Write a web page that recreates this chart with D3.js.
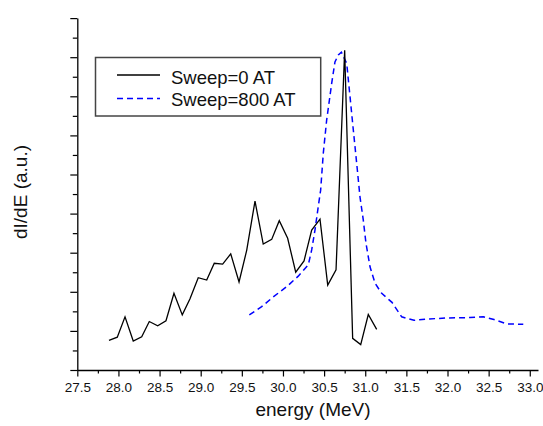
<!DOCTYPE html>
<html>
<head>
<meta charset="utf-8">
<script src="https://cdnjs.cloudflare.com/ajax/libs/d3/7.8.5/d3.min.js"></script>
<style>
  html, body { margin: 0; padding: 0; background: #fff; }
  svg { display: block; }
  text { font-family: Arial, "Liberation Sans", sans-serif; }
</style>
</head>
<body>
<svg id="chart" width="543" height="426"></svg>
<script>
// ---- Data ----
const seriesNames = ["Sweep=0 AT", "Sweep=800 AT"];

const sweep0Energy = [27.885, 27.986, 28.08, 28.18, 28.283, 28.375, 28.477, 28.578, 28.675, 28.776,
  28.87, 28.97, 29.073, 29.165, 29.267, 29.365, 29.466, 29.559, 29.66, 29.76,
  29.863, 29.955, 30.057, 30.155, 30.256, 30.349, 30.45, 30.544, 30.645, 30.75,
  30.847, 30.945, 31.037, 31.139];
const sweep0Value = [0.76, 0.84, 1.36, 0.74, 0.85, 1.24, 1.13, 1.26, 1.96, 1.41,
  1.82, 2.36, 2.30, 2.73, 2.71, 2.97, 2.25, 3.06, 4.32, 3.22,
  3.34, 3.82, 3.37, 2.50, 2.79, 3.58, 3.86, 2.17, 2.56, 8.18,
  0.81, 0.65, 1.42, 1.04];

const sweep800Energy = [29.591, 29.741, 29.882, 30.045, 30.186, 30.308, 30.349, 30.389, 30.429, 30.458,
  30.49, 30.531, 30.592, 30.632, 30.673, 30.71, 30.775, 30.815, 30.855, 30.896,
  30.936, 30.976, 31.009, 31.058, 31.119, 31.2, 31.325, 31.443, 31.593, 31.726,
  31.99, 32.273, 32.435, 32.565, 32.72, 32.921];
const sweep800Value = [1.41, 1.62, 1.87, 2.13, 2.40, 2.69, 3.07, 3.58, 4.18, 4.60,
  5.54, 6.39, 7.33, 7.88, 8.06, 8.13, 7.84, 6.99, 6.14, 5.29,
  4.43, 3.84, 3.24, 2.64, 2.22, 1.96, 1.73, 1.36, 1.27, 1.30,
  1.33, 1.34, 1.36, 1.29, 1.18, 1.17];

const xMajorTicks = [27.5, 28.0, 28.5, 29.0, 29.5, 30.0, 30.5, 31.0, 31.5, 32.0, 32.5, 33.0];
const xTickLabels = ["27.5", "28.0", "28.5", "29.0", "29.5", "30.0", "30.5", "31.0", "31.5", "32.0", "32.5", "33.0"];
const yMajorTicks = [0, 1, 2, 3, 4, 5, 6, 7, 8, 9];

const xLabel = "energy (MeV)";
const yLabel = "dI/dE (a.u.)";

// ---- Layout ----
const svg = d3.select("#chart");
const mLeft = 77.3, mRight = 538, mTop = 18.1, mBottom = 370;

const x = d3.scaleLinear().domain([27.5, 33.1]).range([mLeft, mRight]);
const y = d3.scaleLinear().domain([0, 9]).range([mBottom, mTop]);

const xMinor = d3.range(0, 23).map(i => 27.5 + i * 0.25).filter(v => v <= 33.0 + 1e-9 && !xMajorTicks.some(m => Math.abs(m - v) < 1e-9));
const yMinor = d3.range(0, 9).map(i => i + 0.5);

// X axis
const xAxis = d3.axisBottom(x).tickValues(xMajorTicks).tickSize(6.5).tickSizeOuter(0)
  .tickFormat((d, i) => xTickLabels[i]);
const gx = svg.append("g").attr("transform", `translate(0,${mBottom})`).call(xAxis);
gx.select(".domain").attr("stroke", "#000").attr("stroke-width", 1.3);
gx.selectAll(".tick line").attr("stroke", "#000").attr("stroke-width", 1.2);
gx.selectAll(".tick text").attr("font-size", "13.5px").attr("fill", "#111")
  .attr("font-family", "Arial, 'Liberation Sans', sans-serif").attr("dy", "0.95em");

const xAxisMinor = d3.axisBottom(x).tickValues(xMinor).tickSize(3.5).tickFormat("");
const gxm = svg.append("g").attr("transform", `translate(0,${mBottom})`).call(xAxisMinor);
gxm.select(".domain").remove();
gxm.selectAll(".tick line").attr("stroke", "#000").attr("stroke-width", 1.2);

// Y axis
const yAxis = d3.axisLeft(y).tickValues(yMajorTicks).tickSize(7).tickSizeOuter(0).tickFormat("");
const gy = svg.append("g").attr("transform", `translate(${mLeft},0)`).call(yAxis);
gy.select(".domain").attr("stroke", "#000").attr("stroke-width", 1.3);
gy.selectAll(".tick line").attr("stroke", "#000").attr("stroke-width", 1.2);

const yAxisMinor = d3.axisLeft(y).tickValues(yMinor).tickSize(4.5).tickFormat("");
const gym = svg.append("g").attr("transform", `translate(${mLeft},0)`).call(yAxisMinor);
gym.select(".domain").remove();
gym.selectAll(".tick line").attr("stroke", "#000").attr("stroke-width", 1.2);

// Axis titles
svg.append("text").attr("x", 313).attr("y", 416).attr("text-anchor", "middle")
  .attr("font-size", "19px").attr("fill", "#111").text(xLabel);
svg.append("text").attr("transform", "translate(27,192) rotate(-90)").attr("text-anchor", "middle")
  .attr("font-size", "19px").attr("fill", "#111").text(yLabel);

// Lines
const line = d3.line().x(d => x(d[0])).y(d => y(d[1]));
const data0 = sweep0Energy.map((e, i) => [e, sweep0Value[i]]);
const data800 = sweep800Energy.map((e, i) => [e, sweep800Value[i]]);

svg.append("path").datum(data800).attr("d", line).attr("fill", "none")
  .attr("stroke", "#0000ff").attr("stroke-width", 1.5).attr("stroke-dasharray", "6,4");
svg.append("path").datum(data0).attr("d", line).attr("fill", "none")
  .attr("stroke", "#000").attr("stroke-width", 1.3).attr("stroke-linejoin", "miter");

// Legend
const lg = svg.append("g");
lg.append("rect").attr("x", 95.5).attr("y", 57.5).attr("width", 225.2).attr("height", 58.5)
  .attr("fill", "#fff").attr("stroke", "#444").attr("stroke-width", 1.5);
const legendItems = [
  { name: seriesNames[0], color: "#000", dash: null, width: 1.3, ly: 75, ty: 84 },
  { name: seriesNames[1], color: "#0000ff", dash: "6,4", width: 1.5, ly: 98.5, ty: 106 }
];
legendItems.forEach(it => {
  const l = lg.append("line").attr("x1", 117).attr("x2", 160).attr("y1", it.ly).attr("y2", it.ly)
    .attr("stroke", it.color).attr("stroke-width", it.width);
  if (it.dash) l.attr("stroke-dasharray", it.dash);
  lg.append("text").attr("x", 171).attr("y", it.ty).attr("font-size", "18.5px").attr("fill", "#111").text(it.name);
});
</script>
</body>
</html>
